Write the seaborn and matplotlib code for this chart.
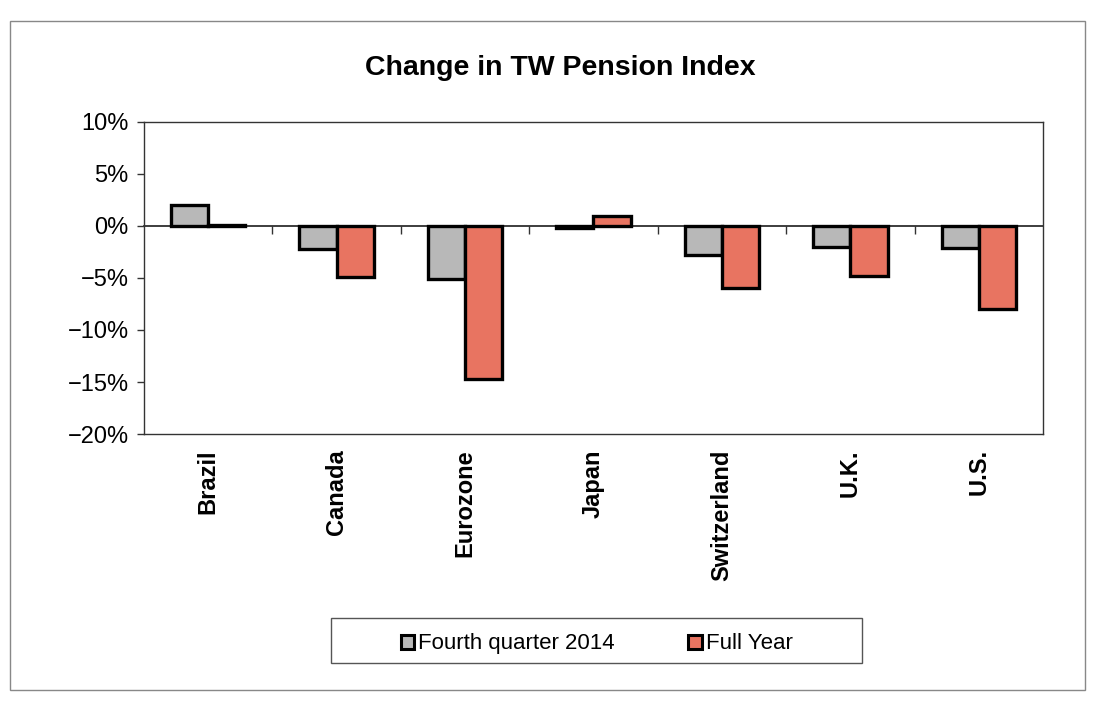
import matplotlib
matplotlib.use("Agg")
import matplotlib.pyplot as plt
import matplotlib.patches as mpatches
from matplotlib.ticker import FuncFormatter
import seaborn as sns
import pandas as pd

categories = ["Brazil", "Canada", "Eurozone", "Japan", "Switzerland", "U.K.", "U.S."]
q4_2014 = [2.0, -2.2, -5.05, -0.15, -2.8, -2.0, -2.1]
full_year = [0.05, -4.9, -14.7, 1.0, -6.0, -4.8, -8.0]
series_names = ["Fourth quarter 2014", "Full Year"]
yticks = [10, 5, 0, -5, -10, -15, -20]

sns.set_theme(style="white")
plt.rcParams["font.family"] = ["Liberation Sans", "DejaVu Sans"]
plt.rcParams["text.color"] = "black"
plt.rcParams["xtick.labelcolor"] = "black"
plt.rcParams["ytick.labelcolor"] = "black"

df = pd.DataFrame({
    "country": categories * 2,
    "value": q4_2014 + full_year,
    "series": [series_names[0]] * len(categories) + [series_names[1]] * len(categories),
})

fig = plt.figure(figsize=(10.96, 7.08), dpi=100)
ax = fig.add_axes([0.1314, 0.387, 0.8202, 0.4407])

colors = {series_names[0]: "#b8b8b8", series_names[1]: "#e87461"}
sns.barplot(data=df, x="country", y="value", hue="series", order=categories,
            hue_order=series_names, palette=colors, width=0.58, saturation=1,
            edgecolor="black", linewidth=2.4, ax=ax, legend=False)

ax.set_ylim(-20, 10)
ax.set_xlim(-0.5, len(categories) - 0.5)
ax.set_yticks(yticks)
ax.yaxis.set_major_formatter(FuncFormatter(lambda v, p: f"{int(v)}%".replace("-", "\u2212")))
ax.tick_params(axis="y", direction="out", length=5, width=1, color="#333333",
               labelsize=17, pad=6, left=True)
ax.set_xticks(range(len(categories)))
ax.set_xticklabels(categories, rotation=90, fontsize=17, fontweight="bold")
ax.tick_params(axis="x", length=0, pad=11)
ax.set_xlabel("")
ax.set_ylabel("")
for s in ax.spines.values():
    s.set_color("#333333")
    s.set_linewidth(1)

# zero line with category separator ticks
sec = ax.secondary_xaxis(2 / 3)
sec.set_xticks([i + 0.5 for i in range(len(categories) - 1)])
sec.set_xticklabels([])
sec.xaxis.set_ticks_position("bottom")
sec.tick_params(axis="x", direction="out", length=6, width=1, color="#333333")
sec.spines["bottom"].set_color("#333333")
sec.spines["bottom"].set_linewidth(1)

fig.text(0.511, 0.904, "Change in TW Pension Index", ha="center", va="center",
         fontsize=20.5, fontweight="bold")

handles = [mpatches.Patch(facecolor=colors[n], edgecolor="black", linewidth=2.2, label=n)
           for n in series_names]
leg = fig.legend(handles=handles, loc="center", bbox_to_anchor=(0.5445, 0.0905), ncol=2,
                 frameon=False, handlelength=0.6, handleheight=0.6,
                 handletextpad=0.2, columnspacing=3.3, prop={"size": 16})

legbox = mpatches.Rectangle((331 / 1096, 1 - 663 / 708), (862 - 331) / 1096, 45 / 708,
                            transform=fig.transFigure, fill=False,
                            edgecolor="#555555", linewidth=1)
fig.patches.append(legbox)

frame = mpatches.Rectangle((0.0091, 0.0254), 0.981, 0.945, transform=fig.transFigure,
                           fill=False, edgecolor="#888888", linewidth=1)
fig.patches.append(frame)

fig.savefig("out.png", dpi=100, facecolor="white")
